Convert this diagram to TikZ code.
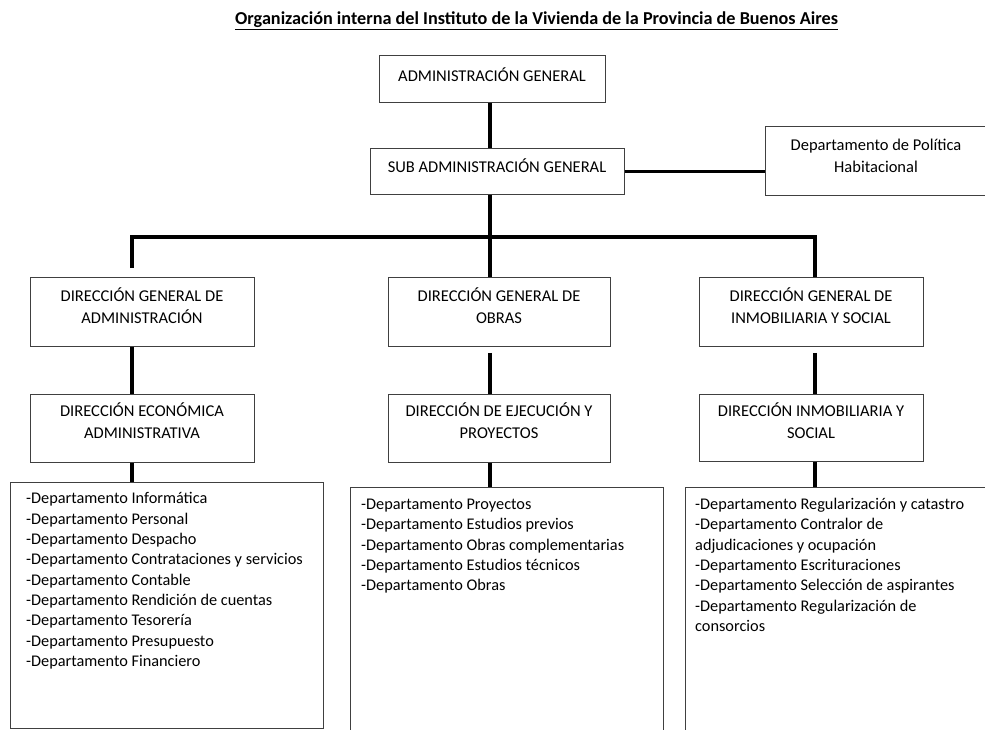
\documentclass[tikz,border=0pt]{standalone}
\usepackage{fontspec}
\setmainfont{Carlito}
\begin{document}
\begin{tikzpicture}[x=1pt,y=-1pt,
  box/.style={draw=black!75, line width=0.8pt, fill=white, inner sep=0pt, anchor=north west},
  conn/.style={line width=3.5pt, line cap=butt, line join=miter},
  lbl/.style={font=\fontsize{16.5}{22}\selectfont, align=center, inner sep=0pt, anchor=center},
  lst/.style={font=\fontsize{16.3}{20.3}\selectfont, align=left, inner sep=0pt, anchor=north west}]
\useasboundingbox (0,0) rectangle (985,730);
\node[font=\bfseries\fontsize{18.2}{21}\selectfont, inner sep=0pt] (title) at (536.5,21) {\underline{Organización interna del Instituto de la Vivienda de la Provincia de Buenos Aires}};
% boxes
\node[box, minimum width=226pt, minimum height=47pt] (ag) at (379,55) {};
\node[box, minimum width=254pt, minimum height=46pt] (sag) at (370,148) {};
\node[box, minimum width=240pt, minimum height=69pt] (pol) at (765,126) {};
\node[box, minimum width=224pt, minimum height=69pt] (dga) at (30,277) {};
\node[box, minimum width=222pt, minimum height=69pt] (dgo) at (388,277) {};
\node[box, minimum width=224pt, minimum height=69pt] (dgi) at (699,277) {};
\node[box, minimum width=224pt, minimum height=68pt] (dea) at (30,394) {};
\node[box, minimum width=222pt, minimum height=68pt] (dep) at (388,394) {};
\node[box, minimum width=224pt, minimum height=67pt] (dis) at (699,394) {};
\node[box, minimum width=313pt, minimum height=246pt] (la) at (10,482) {};
\node[box, minimum width=313pt, minimum height=260pt] (lo) at (350,487) {};
\node[box, minimum width=320pt, minimum height=260pt] (li) at (685,487) {};
% labels
\node[lbl] (tag) at (492,75) {ADMINISTRACIÓN GENERAL};
\node[lbl] (tsag) at (497,166) {SUB ADMINISTRACIÓN GENERAL};
\node[lbl] (tpol) at (876,156) {Departamento de Política\\Habitacional};
\node[lbl] (tdga) at (142,306) {DIRECCIÓN GENERAL DE\\ADMINISTRACIÓN};
\node[lbl] (tdgo) at (499,306) {DIRECCIÓN GENERAL DE\\OBRAS};
\node[lbl] (tdgi) at (811,306) {DIRECCIÓN GENERAL DE\\INMOBILIARIA Y SOCIAL};
\node[lbl] (tdea) at (142,421) {DIRECCIÓN ECONÓMICA\\ADMINISTRATIVA};
\node[lbl] (tdep) at (499,421) {DIRECCIÓN DE EJECUCIÓN Y\\PROYECTOS};
\node[lbl] (tdis) at (811,421) {DIRECCIÓN INMOBILIARIA Y\\SOCIAL};
\node[lst] (tla) at (26,492.5) {-Departamento Informática\\-Departamento Personal\\-Departamento Despacho\\-Departamento Contrataciones y servicios\\-Departamento Contable\\-Departamento Rendición de cuentas\\-Departamento Tesorería\\-Departamento Presupuesto\\-Departamento Financiero};
\node[lst] (tlo) at (361,499) {-Departamento Proyectos\\-Departamento Estudios previos\\-Departamento Obras complementarias\\-Departamento Estudios técnicos\\-Departamento Obras};
\node[lst] (tli) at (695,498) {-Departamento Regularización y catastro\\-Departamento Contralor de\\adjudicaciones y ocupación\\-Departamento Escrituraciones\\-Departamento Selección de aspirantes\\-Departamento Regularización de\\consorcios};
% connector columns
\coordinate (cx) at (490,0);
\coordinate (lx) at (132,0);
\coordinate (rx) at (815,0);
\coordinate (bar) at (0,237);
% connectors
\draw[conn] (ag.south -| cx) -- (sag.north -| cx);
\draw[conn] (sag.east) -- (pol.west |- sag.east);
\draw[conn] (sag.south -| cx) -- (bar -| cx);
\draw[conn] ([yshift=9pt]dga.north -| lx) -- (bar -| lx) -- (bar -| rx) -- (dgi.north -| rx);
\draw[conn] (bar -| cx) -- (dgo.north -| cx);
\draw[conn] (dga.south -| lx) -- (dea.north -| lx);
\draw[conn] ([yshift=-6pt]dgo.south -| cx) -- (dep.north -| cx);
\draw[conn] ([yshift=-6pt]dgi.south -| rx) -- (dis.north -| rx);
\draw[conn] (dea.south -| lx) -- (la.north -| lx);
\draw[conn] (dep.south -| cx) -- (lo.north -| cx);
\draw[conn] (dis.south -| rx) -- (li.north -| rx);
\end{tikzpicture}
\end{document}
